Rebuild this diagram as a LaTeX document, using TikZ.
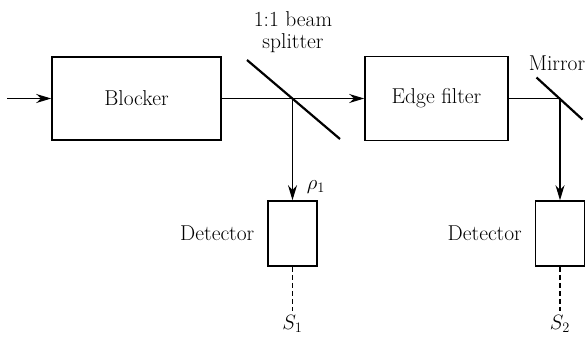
\documentclass[tikz,border=0pt]{standalone}
\usepackage{tikz}
\usetikzlibrary{arrows.meta,positioning}

\begin{document}
\begin{tikzpicture}[x=1pt, y=-1pt, >={Stealth[length=15pt, width=9pt]},
  font=\fontsize{21.5}{22}\selectfont, line width=1.1pt,
  blk/.style={draw, line width=1.6pt, inner sep=0pt},
  det/.style={draw, line width=1.6pt, minimum width=49pt, minimum height=65pt, inner sep=0pt},
  plate/.style={line width=2.2pt},
  sig/.style={dashed, dash pattern=on 5pt off 3pt}]
\useasboundingbox (0,0) rectangle (588,340);
%% boxes
\node[blk, minimum width=169pt, minimum height=83pt] (blk) at (136.5,98.5) {Blocker};
\node[blk, minimum width=143pt, minimum height=84pt] (edge) at (436.5,98.5) {Edge filter};
\node[det] (det1) at (292.5,233.5) {};
\node[det] (det2) at (560,233.5) {};
\node[left=9pt of det1] (lab1) {Detector};
\node[left=9pt of det2] (lab2) {Detector};
%% splitter and mirror
\coordinate (bs) at (292.5,98.5);
\coordinate (mr) at (560,98.5);
\coordinate (bsA) at (247,60);
\coordinate (bsB) at (340,139);
\coordinate (mrA) at (536.5,77.5);
\coordinate (mrB) at (582.5,119.5);
\draw[plate] (bsA) -- (bsB);
\draw[plate] (mrA) -- (mrB);
\node[align=center] (bslab) at (293,32) {1:1 beam\\splitter};
\node (mrlab) at (557,63) {Mirror};
%% beams
\coordinate (in) at (7,98.5);
\draw[->] (in) -- (blk);
\draw[->] (blk.east) -- (edge.west);
\draw[->] (bs) -- (det1.north);
\draw (edge.east) -- (mr);
\draw[->] (mr) -- (det2.north);
\node (rho) at (316,187) {$\rho_1$};
%% outputs
\node (s1) at (292.5,324) {$S_1$};
\node (s2) at (560,324) {$S_2$};
\draw[sig] (det1.south) -- (s1.north);
\draw[sig] (det2.south) -- (s2.north);
\end{tikzpicture}
\end{document}
